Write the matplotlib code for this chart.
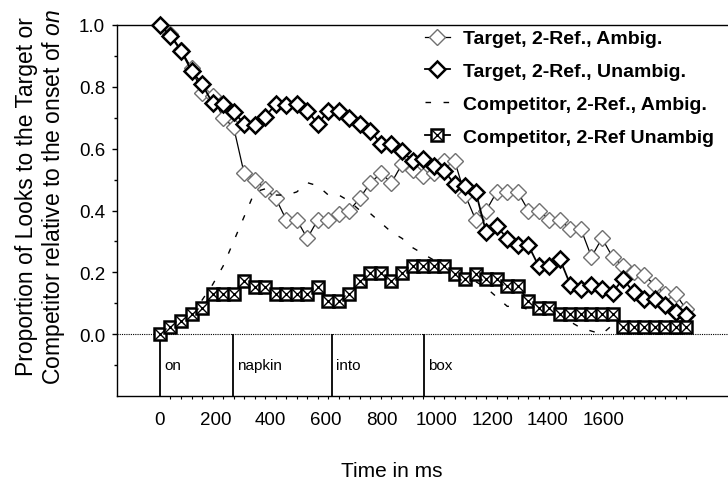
import numpy as np
import matplotlib
matplotlib.use('Agg')
import matplotlib.pyplot as plt

plt.rcParams['font.family'] = 'Liberation Sans'
plt.rcParams['mathtext.fontset'] = 'custom'
plt.rcParams['mathtext.rm'] = 'Liberation Sans'
plt.rcParams['mathtext.it'] = 'Liberation Sans:italic'

# Sampling grid (ms from onset of "on")
time_ms = np.arange(0, 1901, 38)

target_ambig = [1.00, 0.97, 0.92, 0.86, 0.78, 0.77, 0.70, 0.67, 0.52, 0.50,
                0.47, 0.44, 0.37, 0.37, 0.31, 0.37, 0.37, 0.39, 0.40, 0.44,
                0.49, 0.52, 0.49, 0.55, 0.53, 0.51, 0.52, 0.56, 0.56, 0.45,
                0.37, 0.40, 0.46, 0.46, 0.46, 0.40, 0.40, 0.37, 0.37, 0.34,
                0.34, 0.25, 0.31, 0.25, 0.22, 0.20, 0.19, 0.16, 0.13, 0.13,
                0.08]
target_unambig = [1.00, 0.965, 0.917, 0.852, 0.809, 0.747, 0.744, 0.72, 0.68, 0.677,
                  0.703, 0.744, 0.742, 0.744, 0.723, 0.68, 0.723, 0.723, 0.70, 0.68,
                  0.658, 0.615, 0.615, 0.593, 0.56, 0.566, 0.545, 0.529, 0.485, 0.48,
                  0.461, 0.329, 0.35, 0.309, 0.288, 0.288, 0.219, 0.219, 0.243, 0.159,
                  0.146, 0.159, 0.146, 0.133, 0.18, 0.135, 0.113, 0.113, 0.094, 0.072,
                  0.061]
comp_ambig = [0.0, 0.02, 0.04, 0.07, 0.11, 0.16, 0.22, 0.30, 0.38, 0.46,
              0.47, 0.45, 0.45, 0.46, 0.49, 0.48, 0.45, 0.45, 0.43, 0.40,
              0.39, 0.36, 0.33, 0.31, 0.28, 0.26, 0.24, 0.22, 0.20, 0.18,
              0.17, 0.15, 0.12, 0.09, 0.09, 0.08, 0.07, 0.06, 0.05, 0.04,
              0.02, 0.01, 0.0, 0.03, 0.01, 0.0, 0.0, 0.0, 0.0, 0.0,
              0.0]
comp_unambig = [0.0, 0.022, 0.043, 0.065, 0.086, 0.129, 0.129, 0.129, 0.172, 0.154,
                0.154, 0.129, 0.129, 0.129, 0.129, 0.154, 0.108, 0.108, 0.129, 0.172,
                0.197, 0.197, 0.172, 0.197, 0.219, 0.219, 0.219, 0.219, 0.194, 0.178,
                0.194, 0.178, 0.178, 0.156, 0.156, 0.108, 0.086, 0.086, 0.065, 0.065,
                0.065, 0.065, 0.065, 0.065, 0.022, 0.022, 0.022, 0.022, 0.022, 0.022,
                0.022]

# word onsets in the spoken instruction
words = ['on', 'napkin', 'into', 'box']
word_onsets = [0, 264, 621, 953]

fig = plt.figure(figsize=(7.28, 4.85), dpi=100)
ax = fig.add_axes([117 / 728, 1 - 397 / 485, 611 / 728, 371 / 485])
ax.set_xlim(-155, 2051)
ax.set_ylim(-0.2, 1.0)

ax.axhline(0, color='black', lw=0.8, ls=(0, (1, 1)), zorder=1)
ax.vlines(word_onsets, -0.2, 0, color='black', lw=1.3, zorder=1)
for w, t in zip(words, word_onsets):
    ax.annotate(w, (t, -0.1), xytext=(3, 0), textcoords='offset points',
                va='center', ha='left', fontsize=11)

h1, = ax.plot(time_ms, target_ambig, color='black', lw=0.9, marker='D', ms=8,
              mfc='white', mec='#707070', mew=1.0, clip_on=False, zorder=3)
h2, = ax.plot(time_ms, target_unambig, color='black', lw=1.3, marker='D', ms=8,
              mfc='white', mec='black', mew=1.8, clip_on=False, zorder=4)
h3, = ax.plot(time_ms, comp_ambig, color='black', lw=1.0, ls=(0, (4, 9)),
              clip_on=False, zorder=5)
h4, = ax.plot(time_ms, comp_unambig, color='black', lw=1.3, marker='s', ms=8.6,
              mfc='white', mec='black', mew=1.8, clip_on=False, zorder=6)
h4x, = ax.plot(time_ms, comp_unambig, ls='none', marker='x', ms=8.6,
               mec='black', mew=1.0, clip_on=False, zorder=7)

ax.spines['right'].set_visible(False)
for s in ['left', 'top', 'bottom']:
    ax.spines[s].set_linewidth(1.0)

ax.set_yticks([0.0, 0.2, 0.4, 0.6, 0.8, 1.0])
ax.set_yticklabels(['0.0', '0.2', '0.4', '0.6', '0.8', '1.0'])
ax.set_yticks([-0.1, 0.1, 0.3, 0.5, 0.7, 0.9], minor=True)
ax.tick_params(axis='y', which='major', direction='out', length=3.5, width=1,
               labelsize=13.5, pad=5)
ax.tick_params(axis='y', which='minor', direction='out', length=2.5, width=1)

ax.set_xticks(range(0, 1601, 200))
ax.set_xticks(time_ms, minor=True)
ax.tick_params(axis='x', which='major', length=0, labelsize=13.5, pad=11)
ax.tick_params(axis='x', which='minor', direction='out', length=2.5, width=0.8)

ax.set_xlabel('Time in ms', fontsize=15)
ax.xaxis.set_label_coords(0.45, -0.175)
ax.set_ylabel('Proportion of Looks to the Target or\n'
              'Competitor relative to the onset of $\\mathit{on}$',
              fontsize=16.5, linespacing=1.08)
ax.yaxis.set_label_coords(-0.082, 0.539)

ax.legend([h1, h2, h3, (h4, h4x)],
          ['Target, 2-Ref., Ambig.', 'Target, 2-Ref., Unambig.',
           'Competitor, 2-Ref., Ambig.', 'Competitor, 2-Ref Unambig'],
          loc='upper left', bbox_to_anchor=(417 / 728, 1 - 23 / 485),
          bbox_transform=fig.transFigure, frameon=False,
          prop={'weight': 'bold', 'size': 14}, handlelength=1.3,
          handletextpad=0.67, labelspacing=0.78, borderaxespad=0)

fig.savefig('out.png', dpi=100)
